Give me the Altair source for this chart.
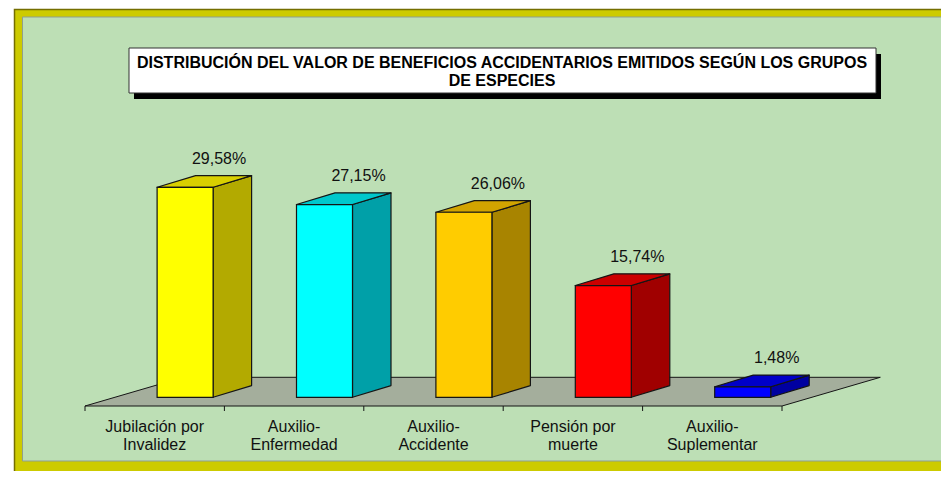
import altair as alt
import pandas as pd

# ---------------- data ----------------
categories = ["Jubilación por\nInvalidez", "Auxilio-\nEnfermedad", "Auxilio-\nAccidente",
              "Pensión por\nmuerte", "Auxilio-\nSuplementar"]
values = [29.58, 27.15, 26.06, 15.74, 1.48]
value_labels = ["29,58%", "27,15%", "26,06%", "15,74%", "1,48%"]
title_lines = ["DISTRIBUCIÓN DEL VALOR DE BENEFICIOS ACCIDENTARIOS EMITIDOS SEGÚN LOS GRUPOS",
               "DE ESPECIES"]

# ---------------- styles ----------------
front_colors = ["#ffff00", "#00ffff", "#ffcc00", "#ff0000", "#0000ff"]
top_colors = ["#d9d000", "#00c8cc", "#d2a400", "#cc0000", "#0000c8"]
side_colors = ["#b3aa00", "#00a0a8", "#a88400", "#a00000", "#0000a0"]
FRAME = "#cdcb00"
PANEL = "#bddfb5"
FLOOR = "#a4ae9c"
EDGE = "#151515"
FONT = "Liberation Sans"

W, H = 933, 463
CAT0_PX = 146.7    # x of first category centre
CAT_PX = 139.4     # px per category
ZERO_PX = 389.3    # y of value 0 (bar base)
VAL_PX = 7.1       # px per percentage point

def ux(px):
    return px / CAT_PX

def uy(px):
    return px / VAL_PX

BAR_OFF, BAR_W = 2.4, 56.0
DEPTH_X, DEPTH_Y = 38.5, 11.7
FLOOR_DROP = 8.7
FLOOR_DX, FLOOR_DY = 98.3, 28.7

xs = alt.Scale(domain=[-CAT0_PX / CAT_PX, (W - CAT0_PX) / CAT_PX], nice=False, zero=False)
ys = alt.Scale(domain=[-(H - ZERO_PX) / VAL_PX, ZERO_PX / VAL_PX], nice=False, zero=False)

n = len(values)
bars = pd.DataFrame({
    "i": list(range(n)),
    "v": values,
    "lab": value_labels,
    "cat": categories,
    "front": front_colors,
})
bars["xl"] = bars["i"] + ux(BAR_OFF)
bars["xr"] = bars["xl"] + ux(BAR_W)
bars["zero"] = 0.0
bars["lx"] = (bars["xl"] + bars["xr"]) / 2 + ux(34)
bars["ly"] = bars["v"] + uy(DEPTH_Y) + uy(12)
bars["floor"] = -uy(FLOOR_DROP)

ff = -uy(FLOOR_DROP)
floor = pd.DataFrame([
    {"y": ff, "xa": -0.5, "xb": n - 0.5},
    {"y": ff + uy(FLOOR_DY), "xa": -0.5 + ux(FLOOR_DX), "xb": n - 0.5 + ux(FLOOR_DX)},
])
ticks = pd.DataFrame({"t": [k - 0.5 for k in range(n + 1)], "y": ff, "y2": ff - uy(5)})

one = pd.DataFrame({"k": [0]})
title_df = pd.DataFrame({"t": ["\n".join(title_lines)]})

# ---------------- decoration ----------------
frame = alt.Chart(one).mark_rect(fill=FRAME, stroke="#746e00", strokeWidth=1.5).encode(
    x=alt.value(6.5), x2=alt.value(960), y=alt.value(1.5), y2=alt.value(490))
panel = alt.Chart(one).mark_rect(fill=PANEL, stroke="#8f9f8f", strokeWidth=1).encode(
    x=alt.value(14.5), x2=alt.value(938.5), y=alt.value(9), y2=alt.value(453))
shadow = alt.Chart(one).mark_rect(fill="#000000").encode(
    x=alt.value(126), x2=alt.value(873), y=alt.value(46), y2=alt.value(91))
tbox = alt.Chart(one).mark_rect(fill="#ffffff", stroke="#333333", strokeWidth=1).encode(
    x=alt.value(121), x2=alt.value(868), y=alt.value(40), y2=alt.value(85))
ttext = alt.Chart(title_df).mark_text(
    lineBreak="\n", lineHeight=18, align="center", baseline="alphabetic",
    font=FONT, fontSize=16, fontWeight="bold", color="#000000").encode(
    x=alt.value(494), y=alt.value(60), text="t:N")

# ---------------- chart marks ----------------
floor_m = alt.Chart(floor).mark_area(orient="horizontal", fill=FLOOR, stroke=EDGE, strokeWidth=1).encode(
    y=alt.Y("y:Q", scale=ys, axis=None),
    x=alt.X("xa:Q", scale=xs, axis=None, stack=None),
    x2="xb:Q")
tick_m = alt.Chart(ticks).mark_rule(color=EDGE, strokeWidth=1).encode(
    x=alt.X("t:Q", scale=xs, axis=None),
    y=alt.Y("y:Q", scale=ys, axis=None), y2="y2:Q")
cat_m = alt.Chart(bars).mark_text(
    lineBreak="\n", lineHeight=18, align="center", baseline="alphabetic",
    font=FONT, fontSize=16, color="#111111", dy=26).encode(
    x=alt.X("i:Q", scale=xs, axis=None),
    y=alt.Y("floor:Q", scale=ys, axis=None),
    text="cat:N")

face_layers = []
for i, v in enumerate(values):
    xl = i + ux(BAR_OFF)
    xr = xl + ux(BAR_W)
    side_df = pd.DataFrame([
        {"x": xr, "y0": 0.0, "y1": v},
        {"x": xr + ux(DEPTH_X), "y0": uy(DEPTH_Y), "y1": v + uy(DEPTH_Y)},
    ])
    top_df = pd.DataFrame([
        {"y": v, "xa": xl, "xb": xr},
        {"y": v + uy(DEPTH_Y), "xa": xl + ux(DEPTH_X), "xb": xr + ux(DEPTH_X)},
    ])
    face_layers.append(
        alt.Chart(side_df).mark_area(orient="vertical", fill=side_colors[i], stroke=EDGE,
                                     strokeWidth=1.2, strokeJoin="round").encode(
            x=alt.X("x:Q", scale=xs, axis=None),
            y=alt.Y("y0:Q", scale=ys, axis=None, stack=None), y2="y1:Q"))
    face_layers.append(
        alt.Chart(top_df).mark_area(orient="horizontal", fill=top_colors[i], stroke=EDGE,
                                    strokeWidth=1.2, strokeJoin="round").encode(
            y=alt.Y("y:Q", scale=ys, axis=None),
            x=alt.X("xa:Q", scale=xs, axis=None, stack=None), x2="xb:Q"))

front_m = alt.Chart(bars).mark_rect(stroke=EDGE, strokeWidth=1.2).encode(
    x=alt.X("xl:Q", scale=xs, axis=None), x2="xr:Q",
    y=alt.Y("zero:Q", scale=ys, axis=None), y2="v:Q",
    fill=alt.Fill("front:N", scale=None))
val_m = alt.Chart(bars).mark_text(
    align="center", baseline="alphabetic", font=FONT, fontSize=16, color="#111111").encode(
    x=alt.X("lx:Q", scale=xs, axis=None),
    y=alt.Y("ly:Q", scale=ys, axis=None),
    text="lab:N")

chart = alt.layer(
    frame, panel, shadow, tbox, ttext,
    floor_m, tick_m, cat_m, *face_layers, front_m, val_m
).properties(
    width=W, height=H,
    autosize=alt.AutoSizeParams(type="none"),
    padding=0,
    background="#ffffff",
).configure_view(stroke=None)

chart.save("out.html", embed_options={"renderer": "svg", "actions": False})
